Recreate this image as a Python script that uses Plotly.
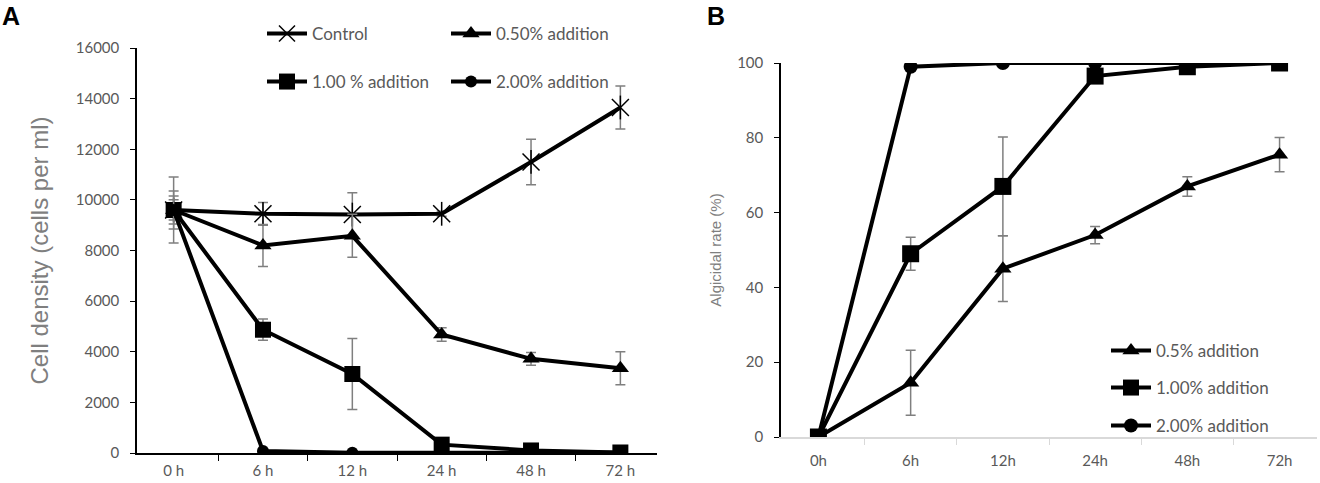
import plotly.graph_objects as go

# ---------------- data ----------------
times_a = ["0 h", "6 h", "12 h", "24 h", "48 h", "72 h"]
times_b = ["0h", "6h", "12h", "24h", "48h", "72h"]

ctrl = [9600, 9450, 9420, 9450, 11500, 13650]
ctrl_err = [1300, 450, 860, 100, 900, 850]
a050 = [9600, 8200, 8580, 4680, 3720, 3350]
a050_err = [750, 830, 850, 270, 250, 650]
a100 = [9600, 4870, 3120, 330, 100, 20]
a100_err = [550, 420, 1400, 50, 50, 0]
a200 = [9600, 80, 10, 10, 10, 10]
a200_err = [400, 0, 0, 0, 0, 0]

b050 = [0, 14.5, 45, 54, 67, 75.5]
b050_err = [0, 8.7, 8.8, 2.3, 2.6, 4.6]
b100 = [0, 49, 67, 96.5, 99, 100]
b100_err = [0, 4.4, 13.2, 0.8, 0.5, 0]
b200 = [0, 99, 100, 100, 100, 100]
b200_err = [0, 0, 0, 0, 0, 0]

W, H = 1320, 483
BLACK = "#000000"
ERR = "#7f7f7f"
TXT = "#595959"
FONT = "Lato"

fig = go.Figure()

def err(vals):
    return dict(type="data", array=vals, visible=True, color=ERR, thickness=1.5, width=5)

# ---------------- panel A ----------------
fig.add_trace(go.Scatter(x=times_a, y=ctrl, name="Control", mode="lines+markers",
                         line=dict(color=BLACK, width=4),
                         marker=dict(symbol="x-thin-open", size=17, color=BLACK,
                                     line=dict(color=BLACK, width=1.5)),
                         error_y=err(ctrl_err), xaxis="x", yaxis="y", legend="legend"))
fig.add_trace(go.Scatter(x=times_a, y=ctrl, mode="markers", showlegend=False, hoverinfo="skip",
                         marker=dict(symbol="line-ns-open", size=17, color=BLACK,
                                     line=dict(color=BLACK, width=1.5)),
                         xaxis="x", yaxis="y"))
fig.add_trace(go.Scatter(x=times_a, y=a050, name="0.50% addition", mode="lines+markers",
                         line=dict(color=BLACK, width=4),
                         marker=dict(symbol="triangle-up", size=15, color=BLACK),
                         error_y=err(a050_err), xaxis="x", yaxis="y", legend="legend"))
fig.add_trace(go.Scatter(x=times_a, y=a100, name="1.00 % addition", mode="lines+markers",
                         line=dict(color=BLACK, width=4),
                         marker=dict(symbol="square", size=16, color=BLACK),
                         error_y=err(a100_err), xaxis="x", yaxis="y", legend="legend2"))
fig.add_trace(go.Scatter(x=times_a, y=a200, name="2.00% addition", mode="lines+markers",
                         line=dict(color=BLACK, width=4),
                         marker=dict(symbol="circle", size=12, color=BLACK),
                         error_y=err(a200_err), xaxis="x", yaxis="y", legend="legend2"))

# ---------------- panel B ----------------
fig.add_trace(go.Scatter(x=times_b, y=b050, name="0.5% addition", mode="lines+markers",
                         line=dict(color=BLACK, width=4),
                         marker=dict(symbol="triangle-up", size=15, color=BLACK),
                         error_y=err(b050_err), xaxis="x2", yaxis="y2", legend="legend3"))
fig.add_trace(go.Scatter(x=times_b, y=b100, name="1.00% addition", mode="lines+markers",
                         line=dict(color=BLACK, width=4),
                         marker=dict(symbol="square", size=17, color=BLACK),
                         error_y=err(b100_err), xaxis="x2", yaxis="y2", legend="legend4"))
fig.add_trace(go.Scatter(x=times_b, y=b200, name="2.00% addition", mode="lines+markers",
                         line=dict(color=BLACK, width=4),
                         marker=dict(symbol="circle", size=14, color=BLACK),
                         error_y=err(b200_err), xaxis="x2", yaxis="y2", legend="legend5"))

def px_x(p):
    return p / W

def px_y(p):
    return 1 - p / H

tickfont = dict(family=FONT, size=15, color=TXT)

def leg(x, y, ew):
    return dict(orientation="h", font=dict(family=FONT, size=17, color=TXT),
                bgcolor="rgba(0,0,0,0)", borderwidth=0, itemwidth=40,
                xanchor="left", yanchor="middle", entrywidthmode="pixels", entrywidth=ew,
                x=px_x(x), y=px_y(y), itemclick=False, itemdoubleclick=False)

fig.update_layout(
    width=W, height=H,
    margin=dict(l=0, r=0, t=0, b=0, autoexpand=False),
    paper_bgcolor="white", plot_bgcolor="white",
    showlegend=True,
    xaxis=dict(domain=[px_x(137), px_x(657)], type="category", anchor="y", automargin=False,
               tickson="boundaries", ticks="outside", ticklen=6, tickcolor=BLACK, tickwidth=1,
               showline=True, linecolor=BLACK, linewidth=1.5, showgrid=False, zeroline=False,
               tickfont=tickfont, ticklabelstandoff=3),
    yaxis=dict(domain=[1 - 453 / H, 1 - 48 / H], range=[0, 16000], anchor="x", automargin=False,
               tickvals=[0, 2000, 4000, 6000, 8000, 10000, 12000, 14000, 16000],
               tickformat="d",
               ticks="outside", ticklen=5, tickcolor=BLACK,
               showline=True, linecolor=BLACK, linewidth=1.5, showgrid=False, zeroline=False,
               tickfont=tickfont, ticklabelstandoff=8,
               title=dict(text="Cell density (cells per ml)", standoff=20,
                          font=dict(family="Liberation Sans, Arial", size=24, color="#7f7f7f"))),
    xaxis2=dict(domain=[px_x(781), px_x(1317)], type="category", anchor="y2", automargin=False,
                tickson="boundaries", ticks="outside", ticklen=6, tickcolor="#d9d9d9", tickwidth=1,
                showline=True, linecolor="#d9d9d9", linewidth=1.5, showgrid=False, zeroline=False,
                tickfont=tickfont, ticklabelstandoff=9),
    yaxis2=dict(domain=[1 - 437 / H, 1 - 63 / H], range=[0, 100], anchor="x2", automargin=False,
                tickvals=[0, 20, 40, 60, 80, 100],
                ticks="outside", ticklen=5, tickcolor=BLACK,
                showline=True, linecolor=BLACK, linewidth=1.5, showgrid=False, zeroline=False,
                tickfont=tickfont, ticklabelstandoff=8,
                title=dict(text="Algicidal rate (%)", standoff=12,
                           font=dict(family="Liberation Sans, Arial", size=15, color="#7f7f7f"))),
    legend=leg(262, 34, 129),
    legend2=leg(262, 82, 129),
    legend3=leg(1106, 351, 0),
    legend4=leg(1106, 388, 0),
    legend5=leg(1106, 426, 0),
    annotations=[
        dict(text="<b>A</b>", x=px_x(0), y=px_y(16), xref="paper", yref="paper",
             xanchor="left", yanchor="middle", showarrow=False,
             font=dict(family="Liberation Sans, Arial", size=25, color=BLACK)),
        dict(text="<b>B</b>", x=px_x(705), y=px_y(16), xref="paper", yref="paper",
             xanchor="left", yanchor="middle", showarrow=False,
             font=dict(family="Liberation Sans, Arial", size=25, color=BLACK)),
    ],
)

post = ("var gd=document.getElementById('{plot_id}');"
        "gd.style.position='fixed';gd.style.top='0px';gd.style.left='0px';"
        "document.body.style.margin='0';document.body.style.overflow='hidden';")

fig.write_html("out.html", config={"displayModeBar": False}, post_script=post)
